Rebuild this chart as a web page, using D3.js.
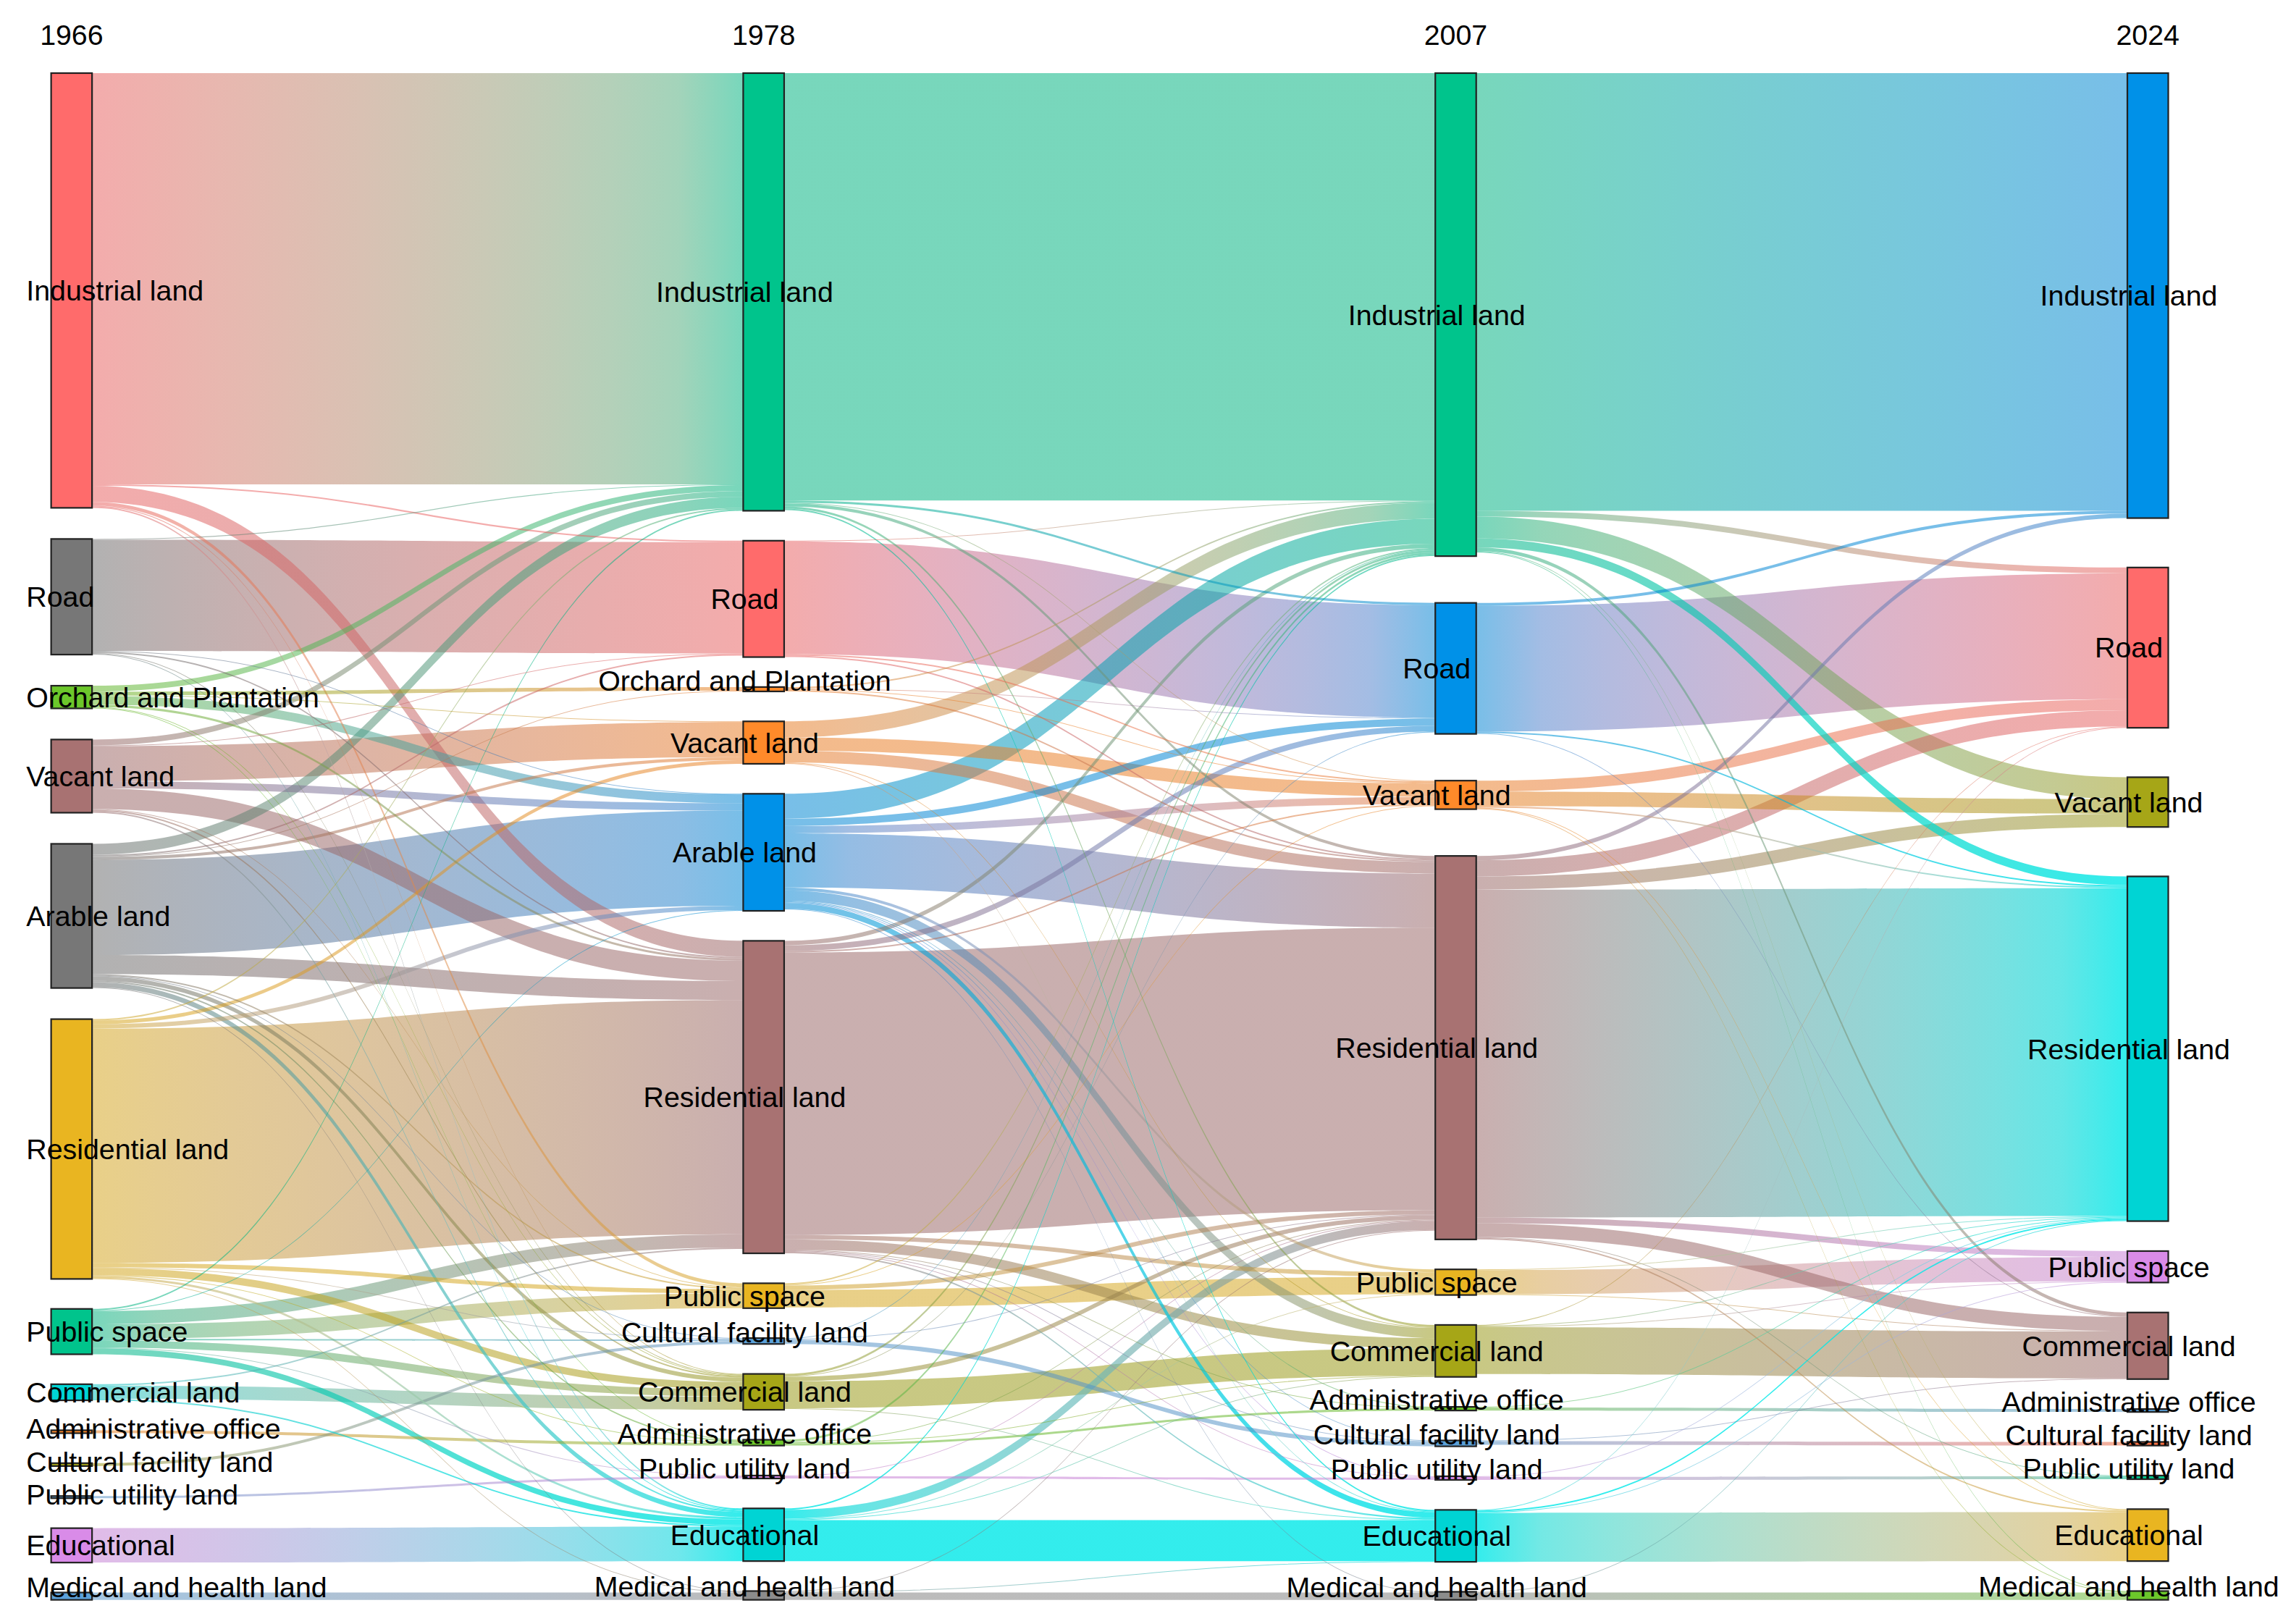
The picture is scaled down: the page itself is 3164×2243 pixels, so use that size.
<!DOCTYPE html>
<html>
<head>
<meta charset="utf-8">
<script src="https://cdn.jsdelivr.net/npm/d3@7"></script>
<style>
  html, body { margin: 0; padding: 0; background: #fff; }
  svg { display: block; }
</style>
</head>
<body>
<div id="chart"></div>
<script>
// land use categories
const categories = ['IND', 'ROAD', 'ORCH', 'VAC', 'ARAB', 'RES', 'PUB', 'COM', 'ADM', 'CUL', 'UTL', 'EDU', 'MED'];
const categoryNames = ['Industrial land', 'Road', 'Orchard and Plantation', 'Vacant land', 'Arable land',
  'Residential land', 'Public space', 'Commercial land', 'Administrative office', 'Cultural facility land',
  'Public utility land', 'Educational', 'Medical and health land'];

// node order in each year column, top to bottom
const years = ['1966', '1978', '2007', '2024'];
const nodes1966 = ['IND', 'ROAD', 'ORCH', 'VAC', 'ARAB', 'RES', 'PUB', 'COM', 'ADM', 'CUL', 'UTL', 'EDU', 'MED'];
const nodes1978 = ['IND', 'ROAD', 'ORCH', 'VAC', 'ARAB', 'RES', 'PUB', 'CUL', 'COM', 'ADM', 'UTL', 'EDU', 'MED'];
const nodes2007 = ['IND', 'ROAD', 'VAC', 'RES', 'PUB', 'COM', 'ADM', 'CUL', 'UTL', 'EDU', 'MED'];
const nodes2024 = ['IND', 'ROAD', 'VAC', 'RES', 'PUB', 'COM', 'ADM', 'CUL', 'UTL', 'EDU', 'MED'];

// transitions [from, to, area]
const flows1966to1978 = [
  ['IND', 'IND', 281], ['IND', 'ROAD', 1], ['IND', 'RES', 11], ['IND', 'PUB', 2.5], ['IND', 'EDU', 1], ['IND', 'COM', 0.5],
  ['ROAD', 'ROAD', 76], ['ROAD', 'IND', 0.5], ['ROAD', 'RES', 1], ['ROAD', 'COM', 0.5], ['ROAD', 'EDU', 0.5], ['ROAD', 'ARAB', 0.5],
  ['ORCH', 'IND', 4], ['ORCH', 'ORCH', 2.5], ['ORCH', 'ARAB', 6], ['ORCH', 'RES', 1.5], ['ORCH', 'COM', 0.5], ['ORCH', 'ADM', 0.5], ['ORCH', 'VAC', 0.5],
  ['VAC', 'IND', 4], ['VAC', 'VAC', 24], ['VAC', 'ARAB', 5], ['VAC', 'RES', 14], ['VAC', 'COM', 1], ['VAC', 'EDU', 1], ['VAC', 'PUB', 0.5], ['VAC', 'ROAD', 0.5],
  ['ARAB', 'IND', 7.5], ['ARAB', 'VAC', 2], ['ARAB', 'ARAB', 65], ['ARAB', 'RES', 13], ['ARAB', 'COM', 3], ['ARAB', 'EDU', 3.5],
  ['ARAB', 'PUB', 1], ['ARAB', 'CUL', 0.5], ['ARAB', 'ROAD', 1], ['ARAB', 'ORCH', 0.5], ['ARAB', 'ADM', 1], ['ARAB', 'MED', 0.5],
  ['RES', 'IND', 1], ['RES', 'VAC', 2.5], ['RES', 'ARAB', 3], ['RES', 'RES', 160], ['RES', 'PUB', 3], ['RES', 'COM', 5],
  ['RES', 'EDU', 1.5], ['RES', 'ADM', 0.5], ['RES', 'CUL', 0.5], ['RES', 'MED', 0.5],
  ['PUB', 'IND', 1], ['PUB', 'RES', 9], ['PUB', 'PUB', 10], ['PUB', 'COM', 5], ['PUB', 'EDU', 4], ['PUB', 'CUL', 1], ['PUB', 'UTL', 0.5], ['PUB', 'ARAB', 0.5],
  ['COM', 'COM', 9], ['COM', 'EDU', 1], ['COM', 'RES', 1],
  ['ADM', 'ADM', 2], ['CUL', 'CUL', 2], ['UTL', 'UTL', 1.5], ['EDU', 'EDU', 23.5], ['MED', 'MED', 5]
];

const flows1978to2007 = [
  ['IND', 'IND', 292], ['IND', 'ROAD', 1.5], ['IND', 'RES', 2], ['IND', 'COM', 1.5], ['IND', 'EDU', 1], ['IND', 'VAC', 0.5],
  ['ROAD', 'ROAD', 77], ['ROAD', 'VAC', 1], ['ROAD', 'RES', 1], ['ROAD', 'IND', 0.5],
  ['ORCH', 'IND', 1], ['ORCH', 'RES', 1], ['ORCH', 'VAC', 0.5], ['ORCH', 'ROAD', 0.5],
  ['VAC', 'IND', 11], ['VAC', 'VAC', 9], ['VAC', 'RES', 8], ['VAC', 'COM', 0.5], ['VAC', 'EDU', 0.5],
  ['ARAB', 'IND', 17], ['ARAB', 'ROAD', 5], ['ARAB', 'VAC', 5], ['ARAB', 'RES', 37], ['ARAB', 'COM', 7], ['ARAB', 'EDU', 4],
  ['ARAB', 'PUB', 2], ['ARAB', 'UTL', 0.5], ['ARAB', 'ADM', 0.5], ['ARAB', 'CUL', 0.5], ['ARAB', 'MED', 0.5],
  ['RES', 'ROAD', 4], ['RES', 'IND', 3], ['RES', 'VAC', 1], ['RES', 'RES', 193], ['RES', 'PUB', 3], ['RES', 'COM', 7],
  ['RES', 'EDU', 1], ['RES', 'ADM', 0.5], ['RES', 'UTL', 0.5], ['RES', 'CUL', 0.5],
  ['PUB', 'PUB', 12], ['PUB', 'RES', 3], ['PUB', 'IND', 1], ['PUB', 'VAC', 0.5],
  ['CUL', 'CUL', 3], ['CUL', 'RES', 0.5], ['CUL', 'IND', 0.5],
  ['COM', 'COM', 18.5], ['COM', 'RES', 3], ['COM', 'IND', 1.5], ['COM', 'EDU', 0.5], ['COM', 'ROAD', 0.5],
  ['ADM', 'IND', 1.5], ['ADM', 'ADM', 1.5], ['ADM', 'RES', 0.5], ['ADM', 'COM', 0.5],
  ['UTL', 'UTL', 1.5], ['UTL', 'RES', 0.5],
  ['EDU', 'EDU', 28], ['EDU', 'RES', 6], ['EDU', 'IND', 1], ['EDU', 'COM', 0.5], ['EDU', 'PUB', 0.5],
  ['MED', 'MED', 5], ['MED', 'EDU', 0.5], ['MED', 'RES', 0.5]
];

const flows2007to2024 = [
  ['IND', 'IND', 299], ['IND', 'ROAD', 4], ['IND', 'VAC', 15], ['IND', 'RES', 6], ['IND', 'COM', 2.5], ['IND', 'EDU', 0.5], ['IND', 'MED', 0.5],
  ['ROAD', 'ROAD', 86], ['ROAD', 'IND', 2], ['ROAD', 'RES', 1], ['ROAD', 'COM', 0.5],
  ['VAC', 'ROAD', 7.5], ['VAC', 'VAC', 10], ['VAC', 'RES', 1], ['VAC', 'EDU', 0.5], ['VAC', 'MED', 0.5],
  ['RES', 'IND', 3], ['RES', 'ROAD', 11], ['RES', 'VAC', 9], ['RES', 'RES', 224], ['RES', 'PUB', 4], ['RES', 'COM', 9.5],
  ['RES', 'EDU', 1], ['RES', 'UTL', 0.5],
  ['PUB', 'PUB', 16.5], ['PUB', 'RES', 0.5], ['PUB', 'COM', 0.5],
  ['COM', 'COM', 32], ['COM', 'RES', 0.5], ['COM', 'PUB', 0.5], ['COM', 'ROAD', 0.5],
  ['ADM', 'ADM', 2], ['ADM', 'RES', 0.5],
  ['CUL', 'CUL', 2.5], ['CUL', 'COM', 0.5],
  ['UTL', 'UTL', 2], ['UTL', 'RES', 0.5],
  ['EDU', 'EDU', 33.5], ['EDU', 'RES', 1], ['EDU', 'PUB', 0.5], ['EDU', 'ROAD', 0.5],
  ['MED', 'MED', 5], ['MED', 'RES', 0.5]
];

// node fill per year
const colors1966 = { IND: '#ff6b6b', ROAD: '#777777', ORCH: '#6cc72b', VAC: '#a87272', ARAB: '#777777', RES: '#e9b521',
  PUB: '#00c48c', COM: '#00d4d4', ADM: '#ff8a2a', CUL: '#a6a617', UTL: '#5ba0d8', EDU: '#d98be8', MED: '#5ba0d8' };
const colors1978 = { IND: '#00c48c', ROAD: '#ff6b6b', ORCH: '#ff8a2a', VAC: '#ff8a2a', ARAB: '#0091e8', RES: '#a87272',
  PUB: '#e9b521', COM: '#a6a617', ADM: '#6cc72b', CUL: '#5ba0d8', UTL: '#d98be8', EDU: '#00d4d4', MED: '#8c8c8c' };
const colors2007 = { IND: '#00c48c', ROAD: '#0091e8', VAC: '#ff8a2a', RES: '#a87272', PUB: '#e9b521', COM: '#a6a617',
  ADM: '#6cc72b', CUL: '#5ba0d8', UTL: '#d98be8', EDU: '#00d4d4', MED: '#8c8c8c' };
const colors2024 = { IND: '#0091e8', ROAD: '#ff6b6b', VAC: '#a6a617', RES: '#00d4d4', PUB: '#d98be8', COM: '#a87272',
  ADM: '#5ba0d8', CUL: '#ff7043', UTL: '#00c48c', EDU: '#e9b521', MED: '#6cc72b' };

// bright cyan ribbon ends (educational 1978/2007, residential 2024)
const vividEnds = { '1:EDU': '#00e8e8', '2:EDU': '#00e8e8', '3:RES': '#00e8e8' };

// ---------------------------------------------------------------
const W = 1568, H = 1111.5;
const ext = { x0: 35, x1: 1484, y0: 50, y1: 1095 };
const nodeWidth = 28, py = 20.5;
const fontFamily = '"Liberation Sans", Arial, Helvetica, sans-serif';

const columnLists = [nodes1966, nodes1978, nodes2007, nodes2024];
const columnColors = [colors1966, colors1978, colors2007, colors2024];
const flowLists = [flows1966to1978, flows1978to2007, flows2007to2024];

let nodes = [], byKey = {};
columnLists.forEach((list, c) => list.forEach((code, i) => {
  let n = { key: c + ':' + code, code, layer: c, idx: i, sourceLinks: [], targetLinks: [],
    color: columnColors[c][code], name: categoryNames[categories.indexOf(code)] };
  // colour and opacity used where a ribbon touches this node
  n.ribbon = vividEnds[n.key] || d3.color(n.color).darker(0.25).formatHex();
  n.ribbonAlpha = vividEnds[n.key] ? 0.8 : 0.53;
  nodes.push(n);
  byKey[n.key] = n;
}));

let links = [];
flowLists.forEach((list, c) => list.forEach(([s, t, v]) => {
  let l = { index: links.length, source: byKey[c + ':' + s], target: byKey[(c + 1) + ':' + t], value: v };
  links.push(l);
  l.source.sourceLinks.push(l);
  l.target.targetLinks.push(l);
}));

nodes.forEach(n => n.value = Math.max(d3.sum(n.sourceLinks, l => l.value), d3.sum(n.targetLinks, l => l.value)));

let columns = columnLists.map((_, c) => nodes.filter(n => n.layer === c));
let x = d3.scaleLinear().domain([0, columns.length - 1]).range([ext.x0, ext.x1 - nodeWidth]);

let ky = d3.min(columns, c => (ext.y1 - ext.y0 - (c.length - 1) * py) / d3.sum(c, n => n.value));
let size = d3.scaleLinear().domain([0, 1]).range([0, ky]);

nodes.forEach(n => { n.x0 = x(n.layer); n.x1 = n.x0 + nodeWidth; n.h = size(n.value); });
links.forEach(l => l.width = size(l.value));

// residential land and everything under it sit packed on the bottom edge,
// the spare height is shared out between the gaps of the upper block
columns.forEach(col => {
  let split = col.findIndex(n => n.code === 'RES');
  let y = ext.y1;
  for (let i = col.length - 1; i >= split; i--) {
    col[i].y1 = y;
    col[i].y0 = y - col[i].h;
    y = col[i].y0 - py;
  }
  let upper = col.slice(0, split);
  let gap = (col[split].y0 - ext.y0 - d3.sum(upper, n => n.h)) / upper.length;
  y = ext.y0;
  upper.forEach(n => {
    n.y0 = y;
    n.y1 = y + n.h;
    y = n.y1 + gap;
  });
});

// links stacked inside each node in the order of the node at the other end
nodes.forEach(n => {
  n.sourceLinks.sort((a, b) => (a.target.y0 - b.target.y0) || (a.index - b.index));
  n.targetLinks.sort((a, b) => (a.source.y0 - b.source.y0) || (a.index - b.index));
  let ys = n.y0, yt = n.y0;
  n.sourceLinks.forEach(l => { l.sy = ys; ys += l.width; });
  n.targetLinks.forEach(l => { l.ty = yt; yt += l.width; });
});

// ---------------------------------------------------------------
let svg = d3.select('#chart').append('svg')
  .attr('width', 3164)
  .attr('height', 2243)
  .attr('viewBox', `0 0 ${W} ${H}`);

let defs = svg.append('defs');

function linkPath(l) {
  let x1 = l.source.x1, x2 = l.target.x0, y1 = l.sy, y2 = l.ty, d = l.width;
  let cx = (x1 + x2) / 2;
  return `M${x1},${y1}C${cx},${y1} ${cx},${y2} ${x2},${y2}`
    + `L${x2},${y2 + d}C${cx},${y2 + d} ${cx},${y1 + d} ${x1},${y1 + d}Z`;
}

// source -> target colour blend, mixed in linear light
const stopOffsets = d3.range(0, 1.0001, 0.1);
links.forEach(l => {
  l.gid = 'lg' + l.index;
  let mix = d3.interpolateRgb.gamma(2.2)(l.source.ribbon, l.target.ribbon);
  let fade = d3.interpolateNumber(l.source.ribbonAlpha, l.target.ribbonAlpha);
  defs.append('linearGradient')
    .attr('id', l.gid)
    .attr('gradientUnits', 'userSpaceOnUse')
    .attr('x1', l.source.x1).attr('x2', l.target.x0)
    .attr('y1', 0).attr('y2', 0)
    .selectAll('stop')
    .data(stopOffsets)
    .enter().append('stop')
    .attr('offset', t => t)
    .attr('stop-color', t => mix(t))
    .attr('stop-opacity', t => fade(t));
});

svg.append('g')
  .attr('class', 'links')
  .selectAll('path')
  .data(links.slice().sort((a, b) => b.value - a.value))
  .enter()
  .append('path')
  .attr('d', linkPath)
  .attr('fill', l => `url(#${l.gid})`);

svg.append('g')
  .attr('class', 'nodes')
  .selectAll('rect')
  .data(nodes)
  .enter()
  .append('rect')
  .attr('x', n => n.x0)
  .attr('y', n => n.y0)
  .attr('width', nodeWidth)
  .attr('height', n => Math.max(n.y1 - n.y0, 0.5))
  .attr('fill', n => n.color)
  .attr('stroke', '#222')
  .attr('stroke-width', 1.1);

// node labels; very thin nodes carry their label a little above
const labelLift = n => (n.y1 - n.y0 >= 8) ? 0 : (n.layer === 0 && n.code !== 'MED' ? 2 : 6);

svg.append('g')
  .attr('class', 'labels')
  .selectAll('text')
  .data(nodes)
  .enter()
  .append('text')
  .attr('x', n => n.layer === 0 ? n.x0 - 17 : n.x0 + nodeWidth / 2 - 13)
  .attr('y', n => (n.y0 + n.y1) / 2 - labelLift(n))
  .attr('text-anchor', n => n.layer === 0 ? 'start' : 'middle')
  .attr('dominant-baseline', 'central')
  .attr('font-family', fontFamily)
  .attr('font-size', 19.5)
  .attr('fill', '#000')
  .text(n => n.name);

// year headers
svg.append('g')
  .attr('class', 'years')
  .selectAll('text')
  .data(years)
  .enter()
  .append('text')
  .attr('x', (d, i) => x(i) + nodeWidth / 2)
  .attr('y', 24)
  .attr('text-anchor', 'middle')
  .attr('dominant-baseline', 'central')
  .attr('font-family', fontFamily)
  .attr('font-size', 19.5)
  .attr('fill', '#000')
  .text(d => d);
</script>
</body>
</html>
